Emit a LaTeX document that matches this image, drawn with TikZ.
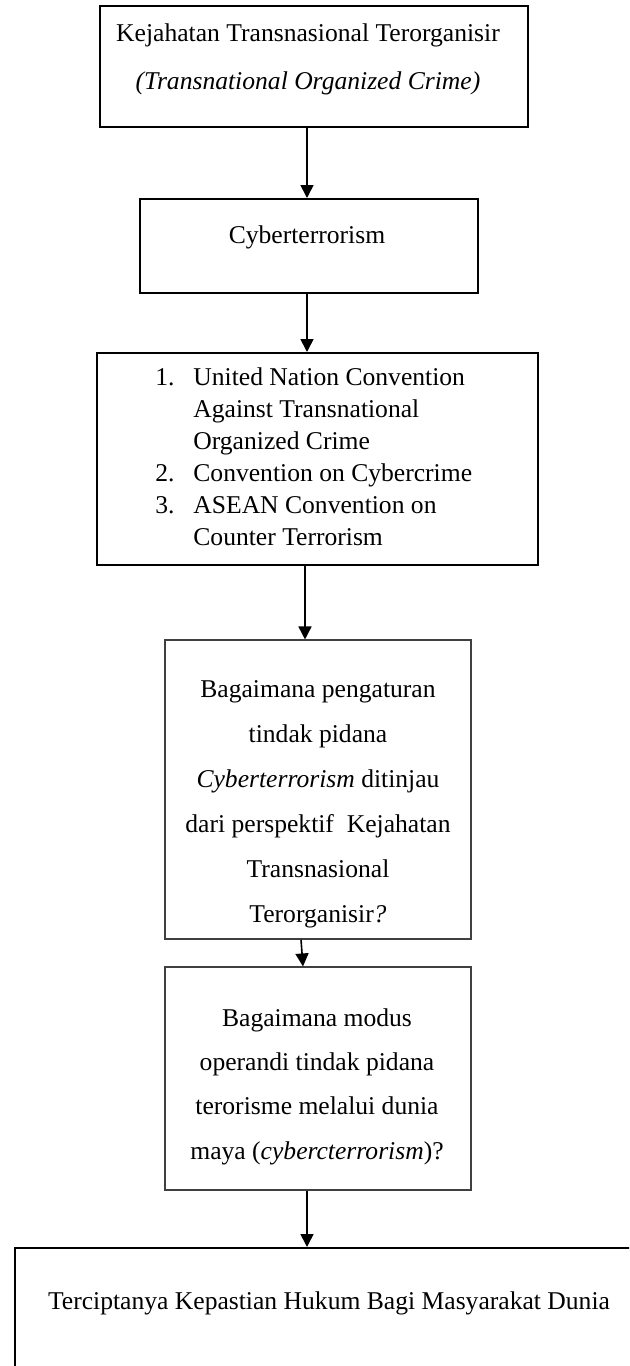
\documentclass[tikz,border=0pt]{standalone}
\usepackage{fontspec}
\setmainfont{Liberation Serif}
\usetikzlibrary{arrows.meta}

\begin{document}
\begin{tikzpicture}[x=0.5pt,y=-0.5pt,
	kotak/.style={draw,line width=1pt,inner sep=0pt},
	tipis/.style={draw=black!75,line width=0.55pt,inner sep=0pt},
	teks/.style={align=center,inner sep=0pt,font=\fontsize{12.8}{#1}\selectfont},
	teks/.default=16,
	panah/.style={line width=0.8pt,-{Triangle[length=6.5pt,width=6.5pt]}}]
	\useasboundingbox (0,0) rectangle (629,1366);
	\clip (0,0) rectangle (629,1366);
	\coordinate (sb) at (307,0); %sumbu panah
	% kotak
	\node[kotak,minimum width=214pt,minimum height=60.5pt] (tnc) at (314,66.5) {};
	\node[kotak,minimum width=169pt,minimum height=47pt] (cyber) at (309,246) {};
	\node[kotak,minimum width=220.5pt,minimum height=106pt] (konv) at (317.5,459) {};
	\node[tipis,minimum width=153pt,minimum height=149.5pt] (rm1) at (318,789.5) {};
	\node[tipis,minimum width=153pt,minimum height=111.5pt] (rm2) at (318,1078.5) {};
	\node[kotak,minimum width=314.25pt,minimum height=80pt] (hasil) at (328.75,1328) {};
	% teks
	\node[teks=24] (t1) at (308,59) {Kejahatan Transnasional Terorganisir\\\textit{(Transnational Organized Crime)}};
	\node[teks] (t2) at (307,237) {Cyberterrorism};
	\node[teks,align=left,anchor=west] (t3) at (155,459) {\begin{tabular}{@{}p{19pt}@{}l@{}}
		1. & United Nation Convention\\
		   & Against Transnational\\
		   & Organized Crime\\
		2. & Convention on Cybercrime\\
		3. & ASEAN Convention on\\
		   & Counter Terrorism
	\end{tabular}};
	\node[teks=22.5] (t4) at (318,804.5) {Bagaimana pengaturan\\tindak pidana\\\textit{Cyberterrorism} ditinjau\\dari perspektif\ \ Kejahatan\\Transnasional\\Terorganisir\textit{?}};
	\node[teks=22.2] (t5) at (317,1086.5) {Bagaimana modus\\operandi tindak pidana\\terorisme melalui dunia\\maya (\textit{cybercterrorism})?};
	\node[teks] (t6) at (329,1303) {Terciptanya Kepastian Hukum Bagi Masyarakat Dunia};
	% panah
	\draw[panah] (tnc.south -| sb) -- (cyber.north -| sb);
	\draw[panah] (cyber.south -| sb) -- (konv.north -| sb);
	\draw[panah] ([xshift=-1pt]konv.south -| sb) -- ([xshift=-1pt]rm1.north -| sb);
	\draw[panah] ([xshift=-3pt]rm1.south -| sb) -- ([xshift=-2pt]rm2.north -| sb);
	\draw[panah] (rm2.south -| sb) -- (hasil.north -| sb);
\end{tikzpicture}
\end{document}
